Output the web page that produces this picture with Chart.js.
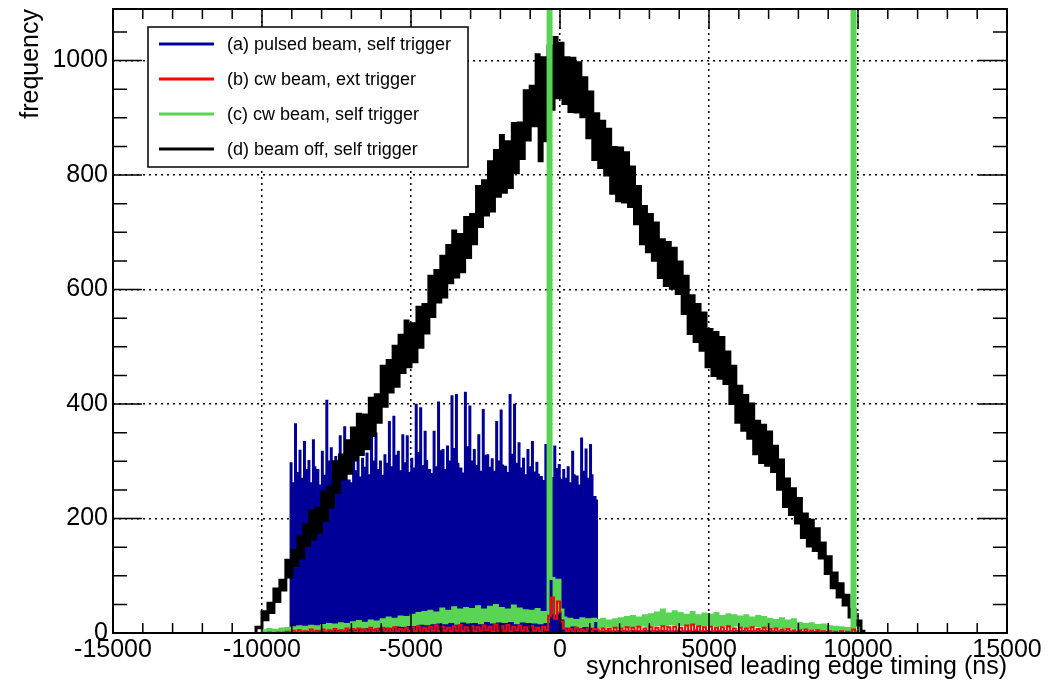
<!DOCTYPE html>
<html>
<head>
<meta charset="utf-8">
<title>synchronised leading edge timing</title>
<script src="https://cdn.jsdelivr.net/npm/chart.js@4/dist/chart.umd.min.js"></script>
<style>
  html, body { margin: 0; padding: 0; background: #fff; }
  #wrap { width: 1053px; height: 685px; }
</style>
</head>
<body>
<div id="wrap"><canvas id="timing-chart" width="1053" height="685"></canvas></div>
<script>
// legend text and colours, same order as the datasets
const seriesLabels = [
  '(a) pulsed beam, self trigger',
  '(b) cw beam, ext trigger',
  '(c) cw beam, self trigger',
  '(d) beam off, self trigger'
];
const seriesColors = ['#000099', '#ff0000', '#59d454', '#000000'];

// (a) pulsed beam: 50 ns bins starting at -9050 ns (spike, shoulder, floor per pulse)
const blueStart = -9050;
const blueBinWidth = 50;
const blueCounts = [
  297,262,226, 365,280,230, 319,270,235, 334,285,233, 301,262,238,
  337,290,236, 285,258,240, 317,275,242, 406,300,244, 323,281,242,
  308,270,246, 344,292,248, 360,287,247, 267,262,250, 321,283,251,
  309,272,252, 305,289,253, 314,276,255, 346,300,254, 349,285,256,
  300,275,257, 311,296,258, 369,290,257, 378,310,259, 317,283,258,
  346,297,260, 344,280,259, 305,288,261, 399,315,260, 393,292,262,
  352,301,261, 285,278,262, 352,290,261, 403,318,263, 320,285,262,
  326,300,263, 414,322,262, 416,296,263, 288,279,262, 420,325,263,
  396,300,262, 320,292,262, 346,282,261, 390,310,262, 311,289,261,
  304,282,260, 369,300,261, 389,293,259, 291,280,259, 416,312,258,
  399,296,257, 332,288,256, 305,276,255, 320,290,254, 334,281,252,
  298,277,251, 273,266,249, 329,282,247, 300,271,245, 326,287,244,
  294,268,242, 285,270,241, 290,262,240, 317,276,239, 274,258,238,
  340,282,237, 321,270,238, 329,276,236, 238,232,
  // tail after the pulse train
  3,2,3,3,2,4,3,2,3,2,3,3,2,3,4,2,3,2,3,3,
  2,3,3,2,4,3,2,3,3,2,3,2,4,3,3,2,3,2,3,3,
  3,2,3,4,2,3,3,2,3,2,3,3,2,4,3,2,3,3,2,3,
  2,3,3,2,3,4,3,2,3,3,2,3,2,3,4,3,2,3,3,2,
  3,3,2,3,2,4,3,2,3,3,2,3,3,2,3,2,3,4,2,3,
  3,2,3,3,2,3,2,3,3,2,4,3,2,3,2,3,3,2,3,2,
  2,3,2,3,2,2,3,2,2,3,2,2,3,2,2,2,3,2,2,2,
  2,2,1,2,2,1,2,2,1,2,1,2,1,1,2
];

// (b) cw beam, ext trigger: 100 ns bins from -10000 ns
const redStart = -10000;
const redBinWidth = 100;
const redCounts = [
  0,0,1,0,0,1,0,1,2,1,
  4,1,5,2,3,1,6,2,4,1,
  6,2,5,1,7,2,5,3,8,2,
  7,2,8,3,6,2,9,3,7,2,
  9,3,8,2,10,3,7,4,9,3,
  10,3,12,4,9,3,11,4,13,3,
  11,4,9,3,12,4,14,3,10,4,
  12,3,10,4,13,5,11,3,15,4,
  12,4,14,3,11,5,13,4,10,3,
  12,4,9,3,11,5,
  30,
  62,25,55,20,
  8,3,7,2,9,3,6,2,8,3,7,
  6,2,8,3,7,2,9,3,
  8,3,10,2,9,4,11,3,8,2,
  10,3,9,4,12,3,10,2,11,4,
  9,3,13,4,15,5,12,3,10,4,
  11,3,9,4,10,2,12,3,8,3,
  9,2,8,3,10,3,7,2,9,3,
  7,2,8,2,6,3,7,2,5,2,
  5,1,6,2,4,1,5,2,3,1,
  3,1,2,1,3,0,2,1,
  6,
  1
];

// (c) cw beam, self trigger: 100 ns bins from -10000 ns (two bins run off scale)
const greenStart = -10000;
const greenBinWidth = 100;
const greenCounts = [
  4,2,6,3,5,2,7,3,8,4,
  9,4,11,5,10,6,12,5,11,7,
  13,6,15,7,14,8,16,7,15,9,
  18,9,20,10,17,11,21,9,19,12,
  23,12,26,11,24,14,28,13,27,15,
  31,15,34,17,36,16,38,18,35,19,
  42,18,38,20,44,17,40,21,43,19,
  41,20,46,18,40,22,45,19,48,21,
  43,20,40,22,47,18,42,21,39,20,
  38,19,41,18,36,20,
  1500,
  95,35,92,40,
  26,12,24,14,22,11,25,13,23,12,24,
  22,10,24,12,21,11,23,10,
  25,12,27,11,29,13,26,14,30,12,
  32,14,35,15,40,13,33,16,37,15,
  34,15,31,14,36,16,30,13,33,15,
  31,14,34,13,29,15,32,12,30,14,
  28,12,30,11,26,13,29,12,27,11,
  24,10,22,11,25,9,21,10,23,9,
  17,8,15,7,16,8,13,6,14,7,
  11,5,10,6,9,4,8,4,
  1500,
  3
];

// (d) beam off, self trigger: 100 ns bins from -10200 ns
const blackStart = -10200;
const blackBinWidth = 100;
const blackCounts = [
  10,9,37,23,52,36,77,55,92,75,
  127,98,144,118,168,131,189,153,213,164,
  218,176,246,197,255,220,299,246,311,269,
  336,279,358,302,382,312,381,322,410,345,
  416,368,466,396,476,421,501,431,520,455,
  545,465,540,474,569,499,574,524,623,553,
  633,578,658,587,677,612,702,622,696,631,
  726,656,731,680,780,710,790,730,823,737,
  843,763,869,770,858,778,890,804,891,829,
  947,861,955,886,1010,825,1005,860,1025,915,
  1040,935,
  1030,925,1005,911,1004,910,996,902,970,865,
  945,827,907,813,894,800,880,768,848,755,
  847,753,839,745,814,715,780,680,745,666,
  731,651,716,621,687,607,682,602,672,593,
  648,558,623,523,589,509,574,494,559,465,
  530,450,525,445,516,436,491,401,466,368,
  431,354,415,340,400,313,370,298,363,293,
  351,282,326,251,302,221,269,207,252,192,
  235,167,208,152,197,144,182,131,157,104,
  133,79,105,63,86,49,66,28,41,14,
  21,3
];

const xTickValues = [-15000, -10000, -5000, 0, 5000, 10000, 15000];
const yTickValues = [0, 200, 400, 600, 800, 1000];
const xTitle = 'synchronised leading edge timing (ns)';
const yTitle = 'frequency';

// turn bin contents into step points: one point per bin left edge, closed to zero at both ends
function histPoints(start, width, counts) {
  const pts = [{ x: start, y: 0 }];
  counts.forEach((c, i) => pts.push({ x: start + i * width, y: c }));
  pts.push({ x: start + counts.length * width, y: 0 });
  return pts;
}

// ROOT-like frame: ticks inside on all four sides, plus the boxed legend
const rootFrame = {
  id: 'rootFrame',
  afterDatasetsDraw(chart) {
    const { ctx, chartArea: a } = chart;
    const xs = chart.scales.x;
    const ys = chart.scales.y;
    ctx.save();
    ctx.strokeStyle = '#000';
    ctx.lineWidth = 1.5;
    ctx.beginPath();
    for (let v = xs.min; v <= xs.max; v += 1000) {
      const px = xs.getPixelForValue(v);
      const len = v % 5000 === 0 ? 20 : 10;
      ctx.moveTo(px, a.bottom); ctx.lineTo(px, a.bottom - len);
      ctx.moveTo(px, a.top); ctx.lineTo(px, a.top + len);
    }
    for (let v = 0; v <= ys.max; v += 50) {
      const py = ys.getPixelForValue(v);
      const len = v % 200 === 0 ? 29 : 14;
      ctx.moveTo(a.left, py); ctx.lineTo(a.left + len, py);
      ctx.moveTo(a.right, py); ctx.lineTo(a.right - len, py);
    }
    ctx.stroke();
    ctx.lineWidth = 2;
    ctx.strokeRect(a.left, a.top, a.right - a.left, a.bottom - a.top);

    // legend
    const bx = a.left + 35, by = a.top + 18, bw = 320, bh = 140;
    ctx.fillStyle = '#fff';
    ctx.fillRect(bx, by, bw, bh);
    ctx.lineWidth = 1.5;
    ctx.strokeRect(bx, by, bw, bh);
    ctx.font = '18px "Liberation Sans", Arial, sans-serif';
    ctx.textBaseline = 'middle';
    ctx.textAlign = 'left';
    chart.data.datasets.forEach((ds, i) => {
      const ly = by + 17 + i * 35;
      ctx.strokeStyle = ds.borderColor;
      ctx.lineWidth = 3;
      ctx.beginPath();
      ctx.moveTo(bx + 11, ly);
      ctx.lineTo(bx + 66, ly);
      ctx.stroke();
      ctx.fillStyle = '#000';
      ctx.fillText(ds.label, bx + 79, ly + 1);
    });
    ctx.restore();
  }
};

Chart.defaults.font.family = '"Liberation Sans", Arial, Helvetica, sans-serif';
Chart.defaults.color = '#000';

const gridOpts = { color: '#000', lineWidth: 1.5, drawTicks: false };
const borderOpts = { display: false, dash: [2, 4] };

new Chart(document.getElementById('timing-chart').getContext('2d'), {
  type: 'line',
  data: {
    datasets: [
      {
        label: seriesLabels[0],
        data: histPoints(blueStart, blueBinWidth, blueCounts),
        borderColor: seriesColors[0],
        backgroundColor: seriesColors[0],
        borderWidth: 1.5,
        fill: 'origin',
        order: 4
      },
      {
        label: seriesLabels[1],
        data: histPoints(redStart, redBinWidth, redCounts),
        borderColor: seriesColors[1],
        borderWidth: 2,
        fill: false,
        order: 1
      },
      {
        label: seriesLabels[2],
        data: histPoints(greenStart, greenBinWidth, greenCounts),
        borderColor: seriesColors[2],
        borderWidth: 3,
        fill: false,
        order: 2
      },
      {
        label: seriesLabels[3],
        data: histPoints(blackStart, blackBinWidth, blackCounts),
        borderColor: seriesColors[3],
        borderWidth: 3,
        fill: false,
        order: 3
      }
    ]
  },
  options: {
    responsive: false,
    devicePixelRatio: 1,
    animation: false,
    events: [],
    layout: { padding: { top: 9, right: 46, bottom: 0, left: 0 } },
    elements: {
      point: { radius: 0 },
      line: { stepped: true, tension: 0 }
    },
    plugins: {
      legend: { display: false },
      tooltip: { enabled: false },
      title: { display: false }
    },
    scales: {
      x: {
        type: 'linear',
        min: -15000,
        max: 15000,
        afterBuildTicks: s => { s.ticks = xTickValues.map(v => ({ value: v })); },
        afterFit: s => { s.height = 52; s.paddingLeft = 0; s.paddingRight = 0; },
        grid: gridOpts,
        border: borderOpts,
        ticks: {
          autoSkip: false,
          maxRotation: 0,
          padding: 2,
          font: { size: 25 },
          callback: v => String(v)
        },
        title: {
          display: true,
          text: xTitle,
          align: 'end',
          font: { size: 25 },
          padding: { top: 0, bottom: 3 }
        }
      },
      y: {
        min: 0,
        max: 1090,
        afterBuildTicks: s => { s.ticks = yTickValues.map(v => ({ value: v })); },
        afterFit: s => { s.width = 113; s.paddingTop = 0; s.paddingBottom = 0; },
        grid: gridOpts,
        border: borderOpts,
        ticks: {
          padding: 5,
          font: { size: 25 },
          callback: v => String(v)
        },
        title: {
          display: true,
          text: yTitle,
          align: 'end',
          font: { size: 25 },
          padding: { top: 16, bottom: 0 }
        }
      }
    }
  },
  plugins: [rootFrame]
});
</script>
</body>
</html>
